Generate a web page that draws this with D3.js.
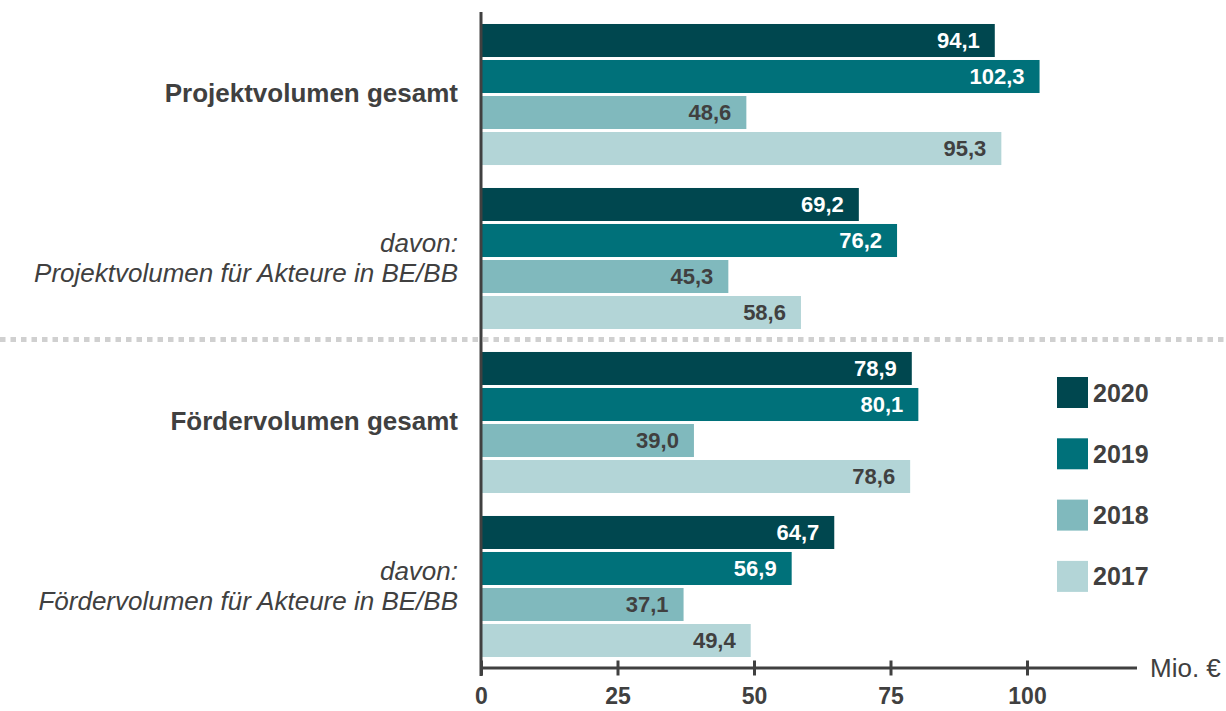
<!DOCTYPE html>
<html>
<head>
<meta charset="utf-8">
<script src="https://cdn.jsdelivr.net/npm/d3@7"></script>
<style>
  body { margin: 0; background: #fff; }
  text { font-family: "Liberation Sans", Arial, sans-serif; fill: #404040; }
</style>
</head>
<body>
<div id="chart"></div>
<script>
var width = 1226, height = 711;

// data
var groups = ["proj", "projBB", "foerd", "foerdBB"];
var years = ["2020", "2019", "2018", "2017"];
var values2020 = [94.1, 69.2, 78.9, 64.7];
var values2019 = [102.3, 76.2, 80.1, 56.9];
var values2018 = [48.6, 45.3, 39.0, 37.1];
var values2017 = [95.3, 58.6, 78.6, 49.4];
var xTicks = [0, 25, 50, 75, 100];
var groupLabels = [
  ["Projektvolumen gesamt"],
  ["davon:", "Projektvolumen für Akteure in BE/BB"],
  ["Fördervolumen gesamt"],
  ["davon:", "Fördervolumen für Akteure in BE/BB"]
];
var colors = ["#00474f", "#00717a", "#80b9bd", "#b3d5d7"];
var labelColors = ["#fff", "#fff", "#404040", "#404040"];

var series = [values2020, values2019, values2018, values2017];

var svg = d3.select('#chart')
  .append('svg')
  .attr('width', width)
  .attr('height', height);

var x = d3.scaleLinear().domain([0, 100]).range([481, 1027]);
var y0 = d3.scaleBand().domain(groups).range([13, 668]).paddingInner(0.14).paddingOuter(0.067);
var y1 = d3.scaleBand().domain(years).range([0, y0.bandwidth()]).paddingInner(0.083);

// dotted separator
svg.append('line')
  .attr('x1', 0).attr('x2', width)
  .attr('y1', 339.5).attr('y2', 339.5)
  .attr('stroke', '#d0d0d0')
  .attr('stroke-width', 5)
  .attr('stroke-dasharray', '5.5,5');

// bars
var groupG = svg.selectAll('g.grp')
  .data(groups)
  .enter()
  .append('g')
  .attr('class', 'grp')
  .attr('transform', d => `translate(0,${y0(d)})`);

groupG.each(function(g, gi) {
  var sel = d3.select(this);
  years.forEach(function(yr, yi) {
    var v = series[yi][gi];
    sel.append('rect')
      .attr('x', x(0))
      .attr('y', y1(yr))
      .attr('width', x(v) - x(0))
      .attr('height', y1.bandwidth())
      .attr('fill', colors[yi]);
    sel.append('text')
      .attr('x', x(v) - 15)
      .attr('y', y1(yr) + y1.bandwidth() / 2)
      .attr('dy', '0.36em')
      .attr('text-anchor', 'end')
      .style('font-size', '22px')
      .style('font-weight', 'bold')
      .style('fill', labelColors[yi])
      .text(d3.format('.1f')(v).replace('.', ','));
  });
});

// category labels
groupLabels.forEach(function(lines, i) {
  var cy = y0(groups[i]) + y0.bandwidth() / 2;
  var t = svg.append('text')
    .attr('text-anchor', 'end')
    .style('font-size', '26px');
  if (lines.length === 1) {
    t.style('font-weight', 'bold')
      .append('tspan')
      .attr('x', 458).attr('y', cy - 2).attr('dy', '0.36em')
      .text(lines[0]);
  } else {
    t.style('font-style', 'italic');
    lines.forEach(function(l, li) {
      t.append('tspan')
        .attr('x', 458)
        .attr('y', cy + (li === 0 ? -16 : 14))
        .attr('dy', '0.36em')
        .text(l);
    });
  }
});

// axes
var xAxis = d3.axisBottom(x)
  .tickValues(xTicks)
  .tickSize(8)
  .tickFormat(d3.format('d'));

var axG = svg.append('g')
  .attr('transform', 'translate(0,668)')
  .call(xAxis);
axG.select('.domain').remove();
axG.selectAll('.tick line')
  .attr('y1', -7.5)
  .attr('y2', 7.5)
  .attr('stroke', '#404040')
  .attr('stroke-width', 3);
axG.selectAll('.tick text')
  .attr('y', 36)
  .attr('dy', '0')
  .style('font-size', '23px')
  .style('font-weight', 'bold')
  .style('fill', '#404040')
  .style('font-family', '"Liberation Sans", Arial, sans-serif');

svg.append('line')
  .attr('x1', 480).attr('x2', 1137)
  .attr('y1', 668).attr('y2', 668)
  .attr('stroke', '#404040').attr('stroke-width', 3);

svg.append('line')
  .attr('x1', 481).attr('x2', 481)
  .attr('y1', 12).attr('y2', 676)
  .attr('stroke', '#404040').attr('stroke-width', 3);

svg.append('text')
  .attr('x', 1150).attr('y', 677)
  .style('font-size', '26px')
  .text('Mio. €');

// legend
var legend = svg.selectAll('g.leg')
  .data(years)
  .enter()
  .append('g')
  .attr('class', 'leg')
  .attr('transform', (d, i) => `translate(1057,${377 + i * 61.3})`);

legend.append('rect')
  .attr('width', 31).attr('height', 31)
  .attr('fill', (d, i) => colors[i]);

legend.append('text')
  .attr('x', 36).attr('y', 15.5).attr('dy', '0.36em')
  .style('font-size', '25px')
  .style('font-weight', 'bold')
  .text(d => d);
</script>
</body>
</html>
